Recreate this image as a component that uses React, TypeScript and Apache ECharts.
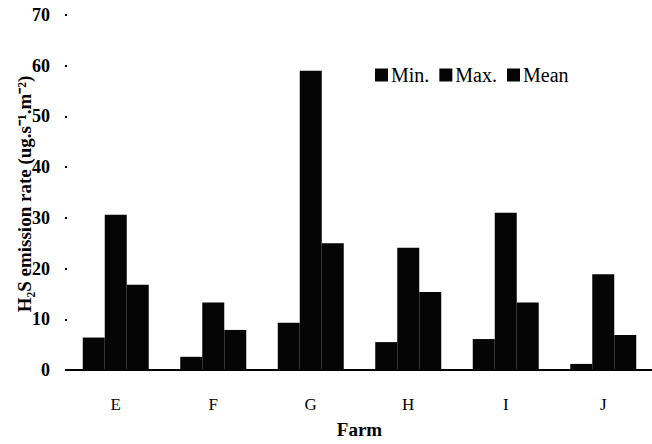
import React, { useEffect, useRef } from "react";
import * as echarts from "echarts";

const farms = ["E", "F", "G", "H", "I", "J"];
const minVals = [6.4, 2.6, 9.3, 5.5, 6.1, 1.2];
const maxVals = [30.6, 13.3, 59.0, 24.1, 31.0, 18.9];
const meanVals = [16.8, 7.9, 25.0, 15.4, 13.3, 6.9];
const yTicks = [0, 10, 20, 30, 40, 50, 60, 70];

const FONT = "'Liberation Serif', 'Times New Roman', serif";

export default function App() {
  const ref = useRef<HTMLDivElement>(null);
  useEffect(() => {
    if (!ref.current) return;
    const chart = echarts.init(ref.current, undefined, { renderer: "svg" });
    const bar = (name: string, data: number[]) => ({
      name,
      type: "bar",
      data,
      barWidth: 22,
      barGap: "0%",
      itemStyle: { color: "#050505" },
    });
    chart.setOption({
      animation: false,
      backgroundColor: "#ffffff",
      textStyle: { fontFamily: FONT },
      grid: { left: 67, top: 15, width: 594, bottom: 74, containLabel: false },
      legend: {
        data: ["Min.", "Max.", "Mean"],
        left: 370,
        top: 60,
        itemWidth: 13,
        itemHeight: 13,
        itemGap: 10,
        icon: "rect",
        textStyle: { fontFamily: FONT, fontSize: 20, color: "#000", padding: [0, 0, 0, -2] },
      },
      xAxis: {
        type: "category",
        data: farms,
        boundaryGap: true,
        axisLine: { lineStyle: { color: "#000", width: 2 } },
        axisTick: { show: false },
        axisLabel: { color: "#000", fontFamily: FONT, fontSize: 17, margin: 26 },
        name: "Farm",
        nameLocation: "middle",
        nameGap: 50,
        nameTextStyle: { color: "#000", fontFamily: FONT, fontSize: 19, fontWeight: "bold" },
      },
      yAxis: {
        type: "value",
        min: yTicks[0],
        max: yTicks[yTicks.length - 1],
        interval: 10,
        splitLine: { show: false },
        axisLine: { show: false },
        axisTick: { show: true, length: 2, inside: false, lineStyle: { color: "#000", width: 2 } },
        axisLabel: { color: "#000", fontFamily: FONT, fontSize: 18, fontWeight: "bold", margin: 17 },
      },
      graphic: [
        {
          type: "text",
          x: 24,
          y: 194,
          rotation: Math.PI / 2,
          style: {
            text: "H₂S emission rate (ug.s⁻¹.m⁻²)",
            fontFamily: FONT,
            fontSize: 19,
            fontWeight: "bold",
            fill: "#000",
            textAlign: "center",
            textVerticalAlign: "middle",
          },
        },
      ],
      series: [bar("Min.", minVals), bar("Max.", maxVals), bar("Mean", meanVals)],
    });
    return () => chart.dispose();
  }, []);
  return (
    <div
      ref={ref}
      style={{ position: "absolute", left: 0, top: 0, width: 652, height: 444 }}
    />
  );
}
